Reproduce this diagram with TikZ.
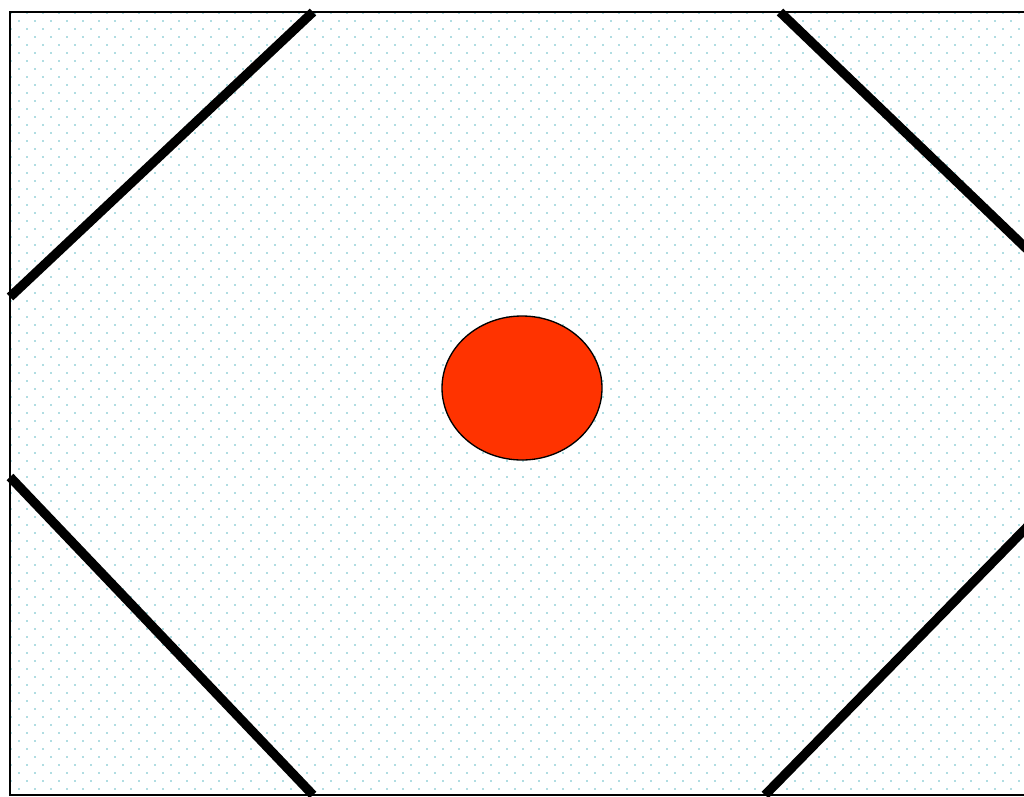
\documentclass[tikz,border=0pt]{standalone}
\usetikzlibrary{shapes.geometric}
\definecolor{dotc}{RGB}{176,221,226}
\definecolor{ballred}{RGB}{255,51,0}
\tikzset{
  wall/.style={line width=7pt, black},
  frame/.style={line width=1.5pt, black},
  ball/.style={ellipse, draw=black, line width=1pt, fill=ballred, minimum width=160*0.75pt, minimum height=144*0.75pt, inner sep=0pt}
}
\begin{document}
\begin{tikzpicture}[x=0.75pt,y=-0.75pt]
\useasboundingbox (0,0) rectangle (1024,796);
\begin{scope}
\clip (10,12) rectangle (1024,795);
\foreach \k in {0,...,98}{
  \pgfmathsetmacro{\yy}{13+8*\k}
  \pgfmathsetmacro{\xo}{mod(\k,2)==0 ? 11 : 19}
  \foreach \j in {0,...,63}{
    \fill[dotc] (\xo+16*\j-1,\yy-1) rectangle ++(2,2);
  }
}
\end{scope}
\draw[frame] (1030,12) -- (10,12) -- (10,795) -- (1030,795);
\begin{scope}
\clip (0,0) rectangle (1024,796);
\coordinate (tl1) at (10,297);
\coordinate (tl2) at (313,12);
\coordinate (tr1) at (780,12);
\coordinate (tr2) at (1030,252);
\coordinate (bl1) at (10,477);
\coordinate (bl2) at (313,795);
\coordinate (br1) at (765,795);
\coordinate (br2) at (1030,524);
\draw[wall] (tl1) -- (tl2);
\draw[wall] (tr1) -- (tr2);
\draw[wall] (bl1) -- (bl2);
\draw[wall] (br1) -- (br2);
\end{scope}
\node[ball] (b) at (522,388) {};
\end{tikzpicture}
\end{document}
